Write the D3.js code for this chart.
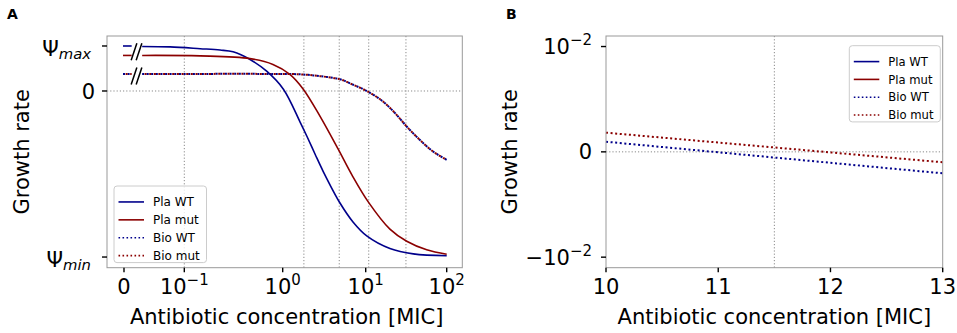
<!DOCTYPE html>
<html>
<head>
<meta charset="utf-8">
<script src="https://cdn.jsdelivr.net/npm/d3@7"></script>
<style>
  body { margin: 0; background: #fff; }
  svg { display: block; font-family: "DejaVu Sans", sans-serif; }
</style>
</head>
<body>
<div class="chart"></div>
<script>
// ---- data ----
// panel A: x in MIC (0 drawn at the broken start), y in units of Psi_max
const psiMax = 1, psiMin = -3.69;
const xTicksA = [0, 0.1, 1, 10, 100];
const xTickExpA = ['', '−1', '0', '1', '2'];
const yTicksA = [psiMax, 0, psiMin];
const yTickSubA = ['max', '', 'min'];
const vLinesA = [0.1, 1.8, 4.8, 10.9, 31.4];
const startA = {plaWt: 1.0, plaMut: 0.79, bio: 0.38};   // values at 0 MIC (before the //)

const plaWtA = [[0.02,0.99],[0.058,0.98],[0.145,0.94],[0.231,0.91],[0.313,0.87],[0.466,0.70],
    [0.687,0.44],[1.02,0.04],[1.62,-0.69],[1.95,-1.0],[2.45,-1.4],[3.08,-1.79],[4.9,-2.49],
    [7.03,-2.91],[10.3,-3.22],[19.9,-3.50],[38.7,-3.62],[100,-3.66]];
const plaMutA = [[0.02,0.79],[0.145,0.78],[0.466,0.72],[0.796,0.59],[1.22,0.37],[1.77,0.04],
    [2.81,-0.56],[4.68,-1.30],[6.84,-1.87],[10.8,-2.47],[19.9,-3.07],[32.1,-3.34],[56.6,-3.53],[100,-3.63]];
const bioWtA = [[0.02,0.38],[0.145,0.38],[0.588,0.38],[1.62,0.37],[2.81,0.33],[4.9,0.26],[6.47,0.17],
    [10.8,-0.02],[16.5,-0.24],[24.1,-0.53],[32.1,-0.79],[46.8,-1.09],[68.4,-1.35],[100,-1.53]];
const bioMutA = [[0.02,0.38],[0.145,0.38],[0.588,0.38],[1.62,0.37],[2.81,0.33],[4.9,0.26],[6.47,0.17],
    [10.8,-0.02],[16.5,-0.24],[24.1,-0.53],[32.1,-0.79],[46.8,-1.09],[68.4,-1.35],[100,-1.53]];

// panel B: zoom around the Bio zero crossing
const xTicksB = [10, 11, 12, 13];
const yTicksB = [0.01, 0, -0.01];
const yTickLabB = [['10', '−2'], ['0', ''], ['−10', '−2']];
const vLinesB = [11.5];
const bioWtB = [[10, 0.00096], [13, -0.00204]];
const bioMutB = [[10, 0.00182], [13, -0.00099]];

const legendItems = [
    {name: 'Pla WT', color: '#00008b', dotted: false},
    {name: 'Pla mut', color: '#8b0000', dotted: false},
    {name: 'Bio WT', color: '#00008b', dotted: true},
    {name: 'Bio mut', color: '#8b0000', dotted: true}
];

const _width = 957, _height = 333;
const blue = '#00008b', red = '#8b0000';
const dotDash = '2,2.6', gridDash = '1.2,2';

let svg = d3.select('.chart')
    .append('svg')
    .attr('width', _width)
    .attr('height', _height);

// ---------------- panel A ----------------
let fA = {left: 107, right: 462.3, top: 36, bottom: 267.7};
// the axis is log from 0.1 upward with a broken stretch down to 0
let decade = d3.scaleLinear()
    .domain([-2.28, -2, -1, 0, 1, 2, 2.19])
    .range([fA.left, 124, 184.3, 282.7, 365.7, 446.7, fA.right]);
let xA = v => decade(v <= 0 ? -2 : Math.log10(v));
let yA = d3.scaleLinear().domain([-3.927, 1.222]).range([fA.bottom, fA.top]);

let gA = svg.append('g');

// grid
gA.selectAll('.vgrid')
    .data(vLinesA)
    .enter().append('line')
    .attr('x1', d => xA(d)).attr('x2', d => xA(d))
    .attr('y1', fA.top).attr('y2', fA.bottom)
    .attr('stroke', '#8a8a8a').attr('stroke-width', 1).attr('stroke-dasharray', gridDash);
gA.append('line')
    .attr('x1', fA.left).attr('x2', fA.right)
    .attr('y1', yA(0)).attr('y2', yA(0))
    .attr('stroke', '#8a8a8a').attr('stroke-width', 1).attr('stroke-dasharray', gridDash);

let lineA = d3.line()
    .x(d => xA(d[0]))
    .y(d => yA(d[1]))
    .curve(d3.curveCatmullRom.alpha(0.5));

let seriesA = [
    {data: bioWtA, color: blue, dotted: true, offset: 0},
    {data: bioMutA, color: red, dotted: true, offset: 2},
    {data: plaWtA, color: blue, dotted: false},
    {data: plaMutA, color: red, dotted: false}
];
seriesA.forEach(s => {
    gA.append('path')
        .attr('d', lineA(s.data))
        .attr('fill', 'none')
        .attr('stroke', s.color)
        .attr('stroke-width', s.dotted ? 2 : 1.6)
        .attr('stroke-dasharray', s.dotted ? dotDash : null)
        .attr('stroke-dashoffset', s.dotted ? s.offset : null);
});

// short pieces at 0 MIC, before the break
let breakX = 0.0134;
[
    {v: startA.bio, color: blue, dotted: true, offset: 0},
    {v: startA.bio, color: red, dotted: true, offset: 2},
    {v: startA.plaWt, color: blue, dotted: false},
    {v: startA.plaMut, color: red, dotted: false}
].forEach(s => {
    gA.append('line')
        .attr('x1', xA(0) - 1).attr('x2', xA(breakX))
        .attr('y1', yA(s.v)).attr('y2', yA(s.v))
        .attr('stroke', s.color)
        .attr('stroke-width', s.dotted ? 2 : 1.6)
        .attr('stroke-dasharray', s.dotted ? dotDash : null)
        .attr('stroke-dashoffset', s.dotted ? s.offset : null);
});

// the "//" marks
let slashCenters = [(yA(startA.plaWt) + yA(startA.plaMut)) / 2 + 1, yA(startA.bio) + 2];
slashCenters.forEach(cy => {
    [0, 5].forEach(dx => {
        let bx = xA(breakX) + dx;
        gA.append('line')
            .attr('x1', bx - 0.5).attr('y1', cy + 8.5)
            .attr('x2', bx + 5.2).attr('y2', cy - 8.5)
            .attr('stroke', '#000').attr('stroke-width', 1.5);
    });
});

// frame
gA.append('rect')
    .attr('x', fA.left).attr('y', fA.top)
    .attr('width', fA.right - fA.left).attr('height', fA.bottom - fA.top)
    .attr('fill', 'none').attr('stroke', '#999').attr('stroke-width', 1);

// x ticks
let xtA = gA.selectAll('.xtA')
    .data(xTicksA)
    .enter().append('g')
    .attr('transform', d => `translate(${xA(d)},${fA.bottom})`);
xtA.append('line').attr('y1', 0).attr('y2', 4.5).attr('stroke', '#000').attr('stroke-width', 1.4);
xtA.each(function (d, i) {
    let t = d3.select(this).append('text')
        .attr('y', 26)
        .attr('text-anchor', 'middle')
        .attr('font-size', 21);
    if (d === 0) {
        t.text('0');
    } else {
        t.append('tspan').text('10');
        t.append('tspan').attr('dy', -9).attr('font-size', 15).text(xTickExpA[i]);
    }
});

// y ticks
let ytA = gA.selectAll('.ytA')
    .data(yTicksA)
    .enter().append('g')
    .attr('transform', d => `translate(${fA.left},${yA(d)})`);
ytA.append('line').attr('x1', -5).attr('x2', 0).attr('stroke', '#000').attr('stroke-width', 1.4);
ytA.each(function (d, i) {
    let t = d3.select(this).append('text')
        .attr('x', -16)
        .attr('text-anchor', 'end')
        .attr('font-size', 21);
    if (yTickSubA[i] === '') {
        t.attr('x', -12).attr('y', 7.6).text('0');
    } else {
        t.attr('y', 10);
        t.append('tspan').text('Ψ');
        t.append('tspan').attr('dy', 3.3).attr('font-size', 14.8)
            .attr('font-style', 'italic').text(yTickSubA[i]);
    }
});

// axis labels
gA.append('text')
    .attr('x', (fA.left + fA.right) / 2 + 2).attr('y', 324)
    .attr('text-anchor', 'middle').attr('font-size', 21)
    .text('Antibiotic concentration [MIC]');
gA.append('text')
    .attr('transform', `translate(28.5,${(fA.top + fA.bottom) / 2}) rotate(-90)`)
    .attr('text-anchor', 'middle').attr('font-size', 21)
    .text('Growth rate');
svg.append('text')
    .attr('x', 7).attr('y', 18.5)
    .attr('font-size', 14).attr('font-weight', 'bold')
    .text('A');

// ---------------- panel B ----------------
let fB = {left: 606, right: 942.7, top: 36, bottom: 267.7};
let xB = d3.scaleLinear().domain([10, 13]).range([fB.left, fB.right]);
let yB = d3.scaleLinear().domain([-0.011, 0.011]).range([fB.bottom, fB.top]);
let gB = svg.append('g');

gB.selectAll('.vgridB')
    .data(vLinesB)
    .enter().append('line')
    .attr('x1', d => xB(d)).attr('x2', d => xB(d))
    .attr('y1', fB.top).attr('y2', fB.bottom)
    .attr('stroke', '#8a8a8a').attr('stroke-width', 1).attr('stroke-dasharray', gridDash);
gB.append('line')
    .attr('x1', fB.left).attr('x2', fB.right)
    .attr('y1', yB(0)).attr('y2', yB(0))
    .attr('stroke', '#8a8a8a').attr('stroke-width', 1).attr('stroke-dasharray', gridDash);

let lineB = d3.line().x(d => xB(d[0])).y(d => yB(d[1]));
[{data: bioWtB, color: blue}, {data: bioMutB, color: red}].forEach(s => {
    gB.append('path')
        .attr('d', lineB(s.data))
        .attr('fill', 'none')
        .attr('stroke', s.color)
        .attr('stroke-width', 2)
        .attr('stroke-dasharray', dotDash);
});

gB.append('rect')
    .attr('x', fB.left).attr('y', fB.top)
    .attr('width', fB.right - fB.left).attr('height', fB.bottom - fB.top)
    .attr('fill', 'none').attr('stroke', '#999').attr('stroke-width', 1);

let xtB = gB.selectAll('.xtB')
    .data(xTicksB)
    .enter().append('g')
    .attr('transform', d => `translate(${xB(d)},${fB.bottom})`);
xtB.append('line').attr('y1', 0).attr('y2', 4.5).attr('stroke', '#000').attr('stroke-width', 1.4);
xtB.append('text')
    .attr('y', 26).attr('text-anchor', 'middle').attr('font-size', 21)
    .text(d => d);

let ytB = gB.selectAll('.ytB')
    .data(yTicksB)
    .enter().append('g')
    .attr('transform', d => `translate(${fB.left},${yB(d)})`);
ytB.append('line').attr('x1', -5).attr('x2', 0).attr('stroke', '#000').attr('stroke-width', 1.4);
ytB.each(function (d, i) {
    let t = d3.select(this).append('text')
        .attr('x', -14).attr('y', 7.6)
        .attr('text-anchor', 'end')
        .attr('font-size', 21);
    t.append('tspan').text(yTickLabB[i][0]);
    if (yTickLabB[i][1]) {
        t.append('tspan').attr('dy', -9).attr('font-size', 15).text(yTickLabB[i][1]);
    }
});

gB.append('text')
    .attr('x', (fB.left + fB.right) / 2).attr('y', 324)
    .attr('text-anchor', 'middle').attr('font-size', 21)
    .text('Antibiotic concentration [MIC]');
gB.append('text')
    .attr('transform', `translate(517,${(fB.top + fB.bottom) / 2}) rotate(-90)`)
    .attr('text-anchor', 'middle').attr('font-size', 21)
    .text('Growth rate');
svg.append('text')
    .attr('x', 506).attr('y', 18.5)
    .attr('font-size', 14).attr('font-weight', 'bold')
    .text('B');

// ---------------- legends ----------------
function draw_legend(g, x, y, w, fontSize, step) {
    let h = step * legendItems.length + 5;
    g.append('rect')
        .attr('x', x).attr('y', y).attr('width', w).attr('height', h)
        .attr('rx', 3).attr('ry', 3)
        .attr('fill', 'rgba(255,255,255,0.8)')
        .attr('stroke', '#ccc').attr('stroke-width', 1);
    let item = g.selectAll(null)
        .data(legendItems)
        .enter().append('g')
        .attr('transform', (d, i) => `translate(${x},${y + 7 + step * (i + 0.5)})`);
    item.append('line')
        .attr('x1', 4.5).attr('x2', 30)
        .attr('stroke', d => d.color)
        .attr('stroke-width', 1.6)
        .attr('stroke-dasharray', d => d.dotted ? '1.6,2.4' : null);
    item.append('text')
        .attr('x', 39).attr('y', fontSize * 0.36)
        .attr('font-size', fontSize)
        .text(d => d.name);
}
draw_legend(gA, 114, 186, 92.5, 12, 17.9);
draw_legend(gB, 849.3, 45.7, 91, 11.6, 17.8);
</script>
</body>
</html>
